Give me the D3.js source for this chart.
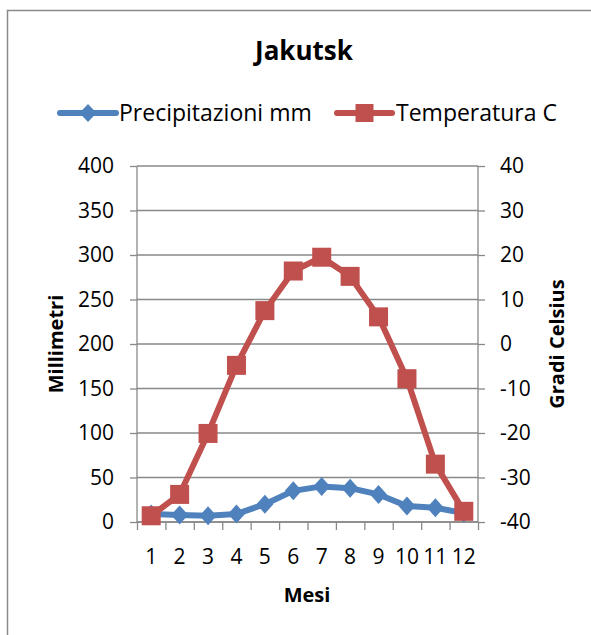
<!DOCTYPE html>
<html>
<head>
<meta charset="utf-8">
<script src="https://cdn.jsdelivr.net/npm/d3@7"></script>
<style>
  body { margin: 0; background: #fff; }
  text { font-family: "Open Sans", sans-serif; fill: #000; }
</style>
</head>
<body>
<div id="chart"></div>
<script>
var months = ["1", "2", "3", "4", "5", "6", "7", "8", "9", "10", "11", "12"];
var precip = [9, 8, 7, 9, 20, 35, 40, 38, 31, 18, 16, 10];   // mm
var temp = [-38.6, -33.8, -20.1, -4.8, 7.5, 16.4, 19.5, 15.2, 6.1, -7.8, -27.0, -37.6];  // C
var mmTicks = [0, 50, 100, 150, 200, 250, 300, 350, 400];
var cTicks = [-40, -30, -20, -10, 0, 10, 20, 30, 40];

var blue = "#4f81bd", red = "#c0504d", grid = "#898989";

var W = 591, H = 635;
var pLeft = 137, pRight = 478, pTop = 166, pBottom = 522;  // plot area

var svg = d3.select("#chart")
    .append("svg")
        .attr("width", W)
        .attr("height", H);

// outer frame (runs past the window on right/bottom)
svg.append("rect")
    .attr("x", 7.5).attr("y", 10.5)
    .attr("width", 620).attr("height", 660)
    .attr("fill", "none")
    .attr("stroke", "#8a8a8a")
    .attr("stroke-width", 1.5);

var x = d3.scaleBand()
    .domain(months)
    .range([pLeft, pRight]);

var yL = d3.scaleLinear().domain([0, 400]).range([pBottom, pTop]);
var yR = d3.scaleLinear().domain([-40, 40]).range([pBottom, pTop]);

// gridlines
svg.append("g")
    .selectAll("line")
    .data(mmTicks)
    .join("line")
        .attr("x1", pLeft).attr("x2", pRight)
        .attr("y1", d => yL(d)).attr("y2", d => yL(d))
        .attr("stroke", grid).attr("stroke-width", 1.3);

// left axis
var axL = svg.append("g")
    .attr("transform", "translate(" + pLeft + ",0)")
    .call(d3.axisLeft(yL).tickValues(mmTicks).tickSize(7).tickPadding(16));

// right axis
var axR = svg.append("g")
    .attr("transform", "translate(" + pRight + ",0)")
    .call(d3.axisRight(yR).tickValues(cTicks).tickSize(7).tickPadding(15)
        .tickFormat(d => d < 0 ? "-" + Math.abs(d) : d));

// bottom axis, ticks between categories
var xEdges = d3.scaleLinear().domain([0, 12]).range([pLeft, pRight]);
var axB = svg.append("g")
    .attr("transform", "translate(0," + pBottom + ")")
    .call(d3.axisBottom(xEdges).ticks(12).tickSize(8).tickFormat(""));

svg.append("g")
    .selectAll("text")
    .data(months)
    .join("text")
        .attr("x", d => x(d) + x.bandwidth() / 2)
        .attr("y", 564)
        .attr("text-anchor", "middle")
        .style("font-size", "21px")
        .text(d => d);

[axL, axR, axB].forEach(function(a) {
    a.select(".domain").attr("stroke", grid).attr("stroke-width", 1.3);
    a.selectAll(".tick line").attr("stroke", grid).attr("stroke-width", 1.3);
    a.selectAll("text").style("font-size", "21px").style("font-family", "Open Sans").attr("fill", "#000");
});
axL.select(".domain").attr("d", "M0," + pTop + "V" + pBottom);
axR.select(".domain").attr("d", "M0," + pTop + "V" + pBottom);
axB.select(".domain").attr("d", "M" + pLeft + ",0H" + pRight);

// series
var px = i => x(months[i]) + x.bandwidth() / 2;

svg.append("path")
    .datum(precip)
    .attr("fill", "none").attr("stroke", blue).attr("stroke-width", 6)
    .attr("stroke-linejoin", "round")
    .attr("d", d3.line().x((d, i) => px(i)).y(d => yL(d)));

svg.append("g")
    .selectAll("path")
    .data(precip)
    .join("path")
        .attr("transform", (d, i) => "translate(" + px(i) + "," + yL(d) + ")")
        .attr("d", "M0,-9.5L8.5,0L0,9.5L-8.5,0Z")
        .attr("fill", blue);

svg.append("path")
    .datum(temp)
    .attr("fill", "none").attr("stroke", red).attr("stroke-width", 6)
    .attr("stroke-linejoin", "round")
    .attr("d", d3.line().x((d, i) => px(i)).y(d => yR(d)));

svg.append("g")
    .selectAll("rect")
    .data(temp)
    .join("rect")
        .attr("x", (d, i) => px(i) - 9.5)
        .attr("y", d => yR(d) - 9.5)
        .attr("width", 19).attr("height", 19)
        .attr("fill", red);

// title
svg.append("text")
    .attr("x", 304).attr("y", 60)
    .attr("text-anchor", "middle")
    .style("font-size", "26px").style("font-weight", "bold")
    .text("Jakutsk");

// legend
var legend = [
    {name: "Precipitazioni mm", color: blue, x1: 60, x2: 116, tx: 119, shape: "diamond"},
    {name: "Temperatura C", color: red, x1: 337, x2: 392, tx: 396, shape: "square"}
];
var lg = svg.append("g").selectAll("g").data(legend).join("g");
lg.append("line")
    .attr("x1", d => d.x1).attr("x2", d => d.x2)
    .attr("y1", 113).attr("y2", 113)
    .attr("stroke", d => d.color).attr("stroke-width", 6)
    .attr("stroke-linecap", "round");
lg.append("path")
    .attr("transform", d => "translate(" + (d.x1 + d.x2) / 2 + ",113)")
    .attr("d", d => d.shape == "diamond" ? "M0,-9L8.5,0L0,9L-8.5,0Z" : "M-9,-9H9V9H-9Z")
    .attr("fill", d => d.color);
lg.append("text")
    .attr("x", d => d.tx).attr("y", 121)
    .style("font-size", "23px")
    .text(d => d.name);

// axis titles
svg.append("text")
    .attr("transform", "translate(63,344) rotate(-90)")
    .attr("text-anchor", "middle")
    .style("font-size", "20px").style("font-weight", "bold")
    .text("Millimetri");

svg.append("text")
    .attr("transform", "translate(564,344) rotate(-90)")
    .attr("text-anchor", "middle")
    .style("font-size", "20px").style("font-weight", "bold")
    .text("Gradi Celsius");

svg.append("text")
    .attr("x", 307).attr("y", 602)
    .attr("text-anchor", "middle")
    .style("font-size", "20px").style("font-weight", "bold")
    .text("Mesi");
</script>
</body>
</html>
